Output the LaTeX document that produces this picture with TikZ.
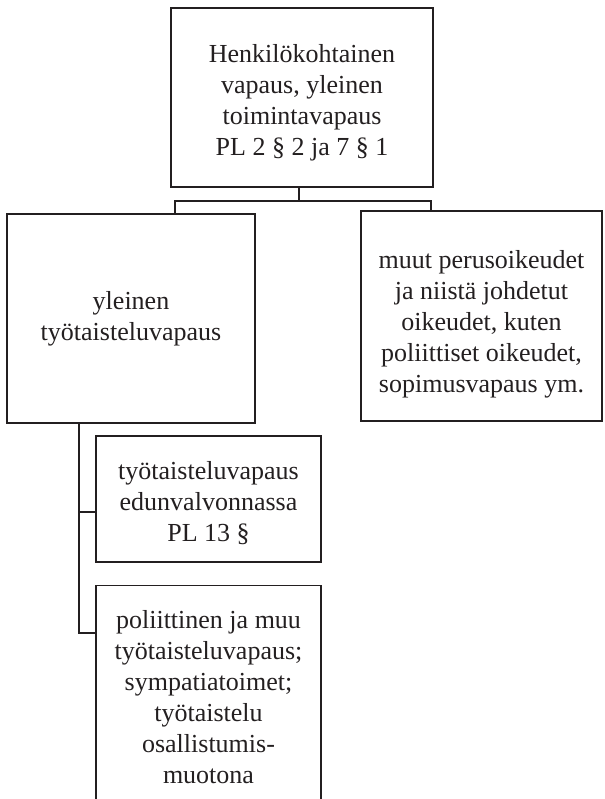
\documentclass[tikz,border=0pt]{standalone}
\usepackage{fontspec}
\setmainfont{Liberation Serif}
\definecolor{ink}{HTML}{231F20}
\newcommand\myStrut[1]{\rule{0pt}{#1}}
\begin{document}
\begin{tikzpicture}[x=1pt,y=-1pt,
  box/.style={draw=ink, text=ink, line width=1.3pt, align=center, inner sep=0pt,
    font=\fontsize{26}{31}\selectfont},
  conn/.style={draw=ink, line width=1.3pt}]
\useasboundingbox (0,0) rectangle (604,799);
\clip (0,0) rectangle (604,799);
\node[box, minimum width=262pt, minimum height=179pt] (top) at (302,97.5)
  {\myStrut{27.8pt}Henkilökohtainen\\vapaus, yleinen\\toimintavapaus\\PL 2 § 2 ja 7 § 1};
\node[box, minimum width=248pt, minimum height=209pt] (left) at (131,318.5)
  {yleinen\\työtaisteluvapaus};
\node[box, minimum width=241pt, minimum height=210pt] (right) at (481.5,316)
  {\myStrut{34pt}muut perusoikeudet\\ja niistä johdetut\\oikeudet, kuten\\poliittiset oikeudet,\\sopimusvapaus ym.};
\node[box, minimum width=225pt, minimum height=126pt] (b2) at (208.5,499)
  {\myStrut{27pt}työtaisteluvapaus\\edunvalvonnassa\\PL 13 §};
\node[box, minimum width=225pt, minimum height=222pt, anchor=north] (b3) at (208.5,585)
  {poliittinen ja muu\\työtaisteluvapaus;\\sympatiatoimet;\\työtaistelu\\osallistumis-\\muotona};
\coordinate (stem) at (299,201);
\coordinate (hl) at (175,201);
\coordinate (hr) at (431,201);
\coordinate (c1) at (79,512);
\coordinate (c2) at (79,633);
\draw[conn] (stem |- top.south) -- (stem);
\draw[conn] (left.north -| hl) -- (hl) -- (hr) -- (right.north -| hr);
\draw[conn] (c1 |- left.south) -- (c2) -- (c2 -| b3.west);
\draw[conn] (c1) -- (c1 -| b2.west);
\end{tikzpicture}
\end{document}
